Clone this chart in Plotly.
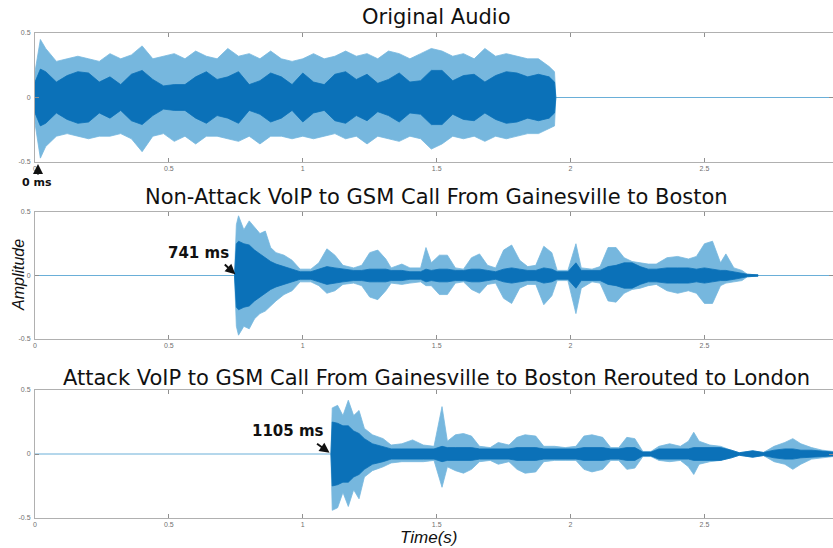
import plotly.graph_objects as go

# ---------------- data ----------------
# Panel 1: Original Audio  (time s, outer upper, outer lower, inner half-width)
orig_t = [0.00, 0.02, 0.04, 0.08, 0.12, 0.16, 0.20, 0.24, 0.28, 0.32, 0.36, 0.40, 0.44, 0.48,
          0.52, 0.56, 0.60, 0.64, 0.68, 0.72, 0.76, 0.80, 0.84, 0.88, 0.92, 0.96, 1.00, 1.04,
          1.08, 1.12, 1.16, 1.20, 1.24, 1.28, 1.32, 1.36, 1.40, 1.44, 1.48, 1.52, 1.56, 1.60,
          1.64, 1.68, 1.72, 1.76, 1.80, 1.84, 1.88, 1.92, 1.94, 1.945]
orig_up = [0.20, 0.45, 0.38, 0.28, 0.30, 0.32, 0.30, 0.28, 0.34, 0.30, 0.33, 0.40, 0.30, 0.32,
           0.34, 0.30, 0.36, 0.32, 0.30, 0.38, 0.32, 0.34, 0.30, 0.36, 0.30, 0.28, 0.30, 0.34,
           0.30, 0.32, 0.36, 0.32, 0.34, 0.30, 0.36, 0.34, 0.30, 0.34, 0.38, 0.36, 0.32, 0.34,
           0.30, 0.38, 0.32, 0.34, 0.32, 0.30, 0.30, 0.24, 0.20, 0.0]
orig_lo = [-0.20, -0.47, -0.38, -0.30, -0.28, -0.30, -0.32, -0.30, -0.30, -0.28, -0.32, -0.42, -0.30, -0.28,
           -0.34, -0.30, -0.36, -0.30, -0.30, -0.32, -0.34, -0.30, -0.36, -0.30, -0.30, -0.32, -0.30, -0.32,
           -0.30, -0.28, -0.32, -0.30, -0.36, -0.30, -0.32, -0.34, -0.30, -0.32, -0.40, -0.36, -0.30, -0.32,
           -0.30, -0.34, -0.30, -0.32, -0.30, -0.28, -0.28, -0.24, -0.22, 0.0]
orig_in = [0.12, 0.22, 0.20, 0.12, 0.17, 0.20, 0.19, 0.12, 0.16, 0.10, 0.18, 0.21, 0.14, 0.09,
           0.10, 0.10, 0.16, 0.20, 0.14, 0.16, 0.20, 0.10, 0.13, 0.19, 0.16, 0.10, 0.19, 0.12,
           0.10, 0.18, 0.20, 0.14, 0.18, 0.11, 0.14, 0.19, 0.12, 0.13, 0.21, 0.21, 0.13, 0.17,
           0.18, 0.12, 0.17, 0.20, 0.19, 0.16, 0.18, 0.16, 0.12, 0.0]

# Panel 2: Non-attack call
non_t = [0.745, 0.752, 0.76, 0.78, 0.80, 0.82, 0.84, 0.86, 0.88, 0.90, 0.93, 0.96, 0.99, 1.03,
         1.06, 1.09, 1.12, 1.15, 1.19, 1.22, 1.25, 1.28, 1.31, 1.33, 1.37, 1.40, 1.44, 1.46,
         1.48, 1.51, 1.54, 1.57, 1.60, 1.63, 1.66, 1.69, 1.72, 1.75, 1.78, 1.81, 1.84, 1.87,
         1.90, 1.93, 1.95, 1.99, 2.02, 2.04, 2.08, 2.11, 2.14, 2.17, 2.20, 2.23, 2.26, 2.29,
         2.32, 2.36, 2.40, 2.44, 2.47, 2.50, 2.53, 2.56, 2.58, 2.61, 2.64, 2.66, 2.70]
non_up = [0.0, 0.40, 0.47, 0.36, 0.43, 0.38, 0.33, 0.35, 0.22, 0.18, 0.16, 0.12, 0.05, 0.05,
          0.10, 0.21, 0.16, 0.08, 0.06, 0.08, 0.18, 0.20, 0.13, 0.06, 0.09, 0.06, 0.06, 0.22,
          0.10, 0.16, 0.16, 0.06, 0.05, 0.14, 0.17, 0.08, 0.06, 0.20, 0.24, 0.12, 0.07, 0.08,
          0.23, 0.18, 0.04, 0.04, 0.25, 0.06, 0.05, 0.07, 0.22, 0.22, 0.14, 0.11, 0.10, 0.09,
          0.09, 0.14, 0.15, 0.13, 0.15, 0.25, 0.27, 0.10, 0.17, 0.06, 0.04, 0.01, 0.005]
non_lo = [0.0, -0.40, -0.47, -0.40, -0.42, -0.34, -0.30, -0.28, -0.24, -0.20, -0.15, -0.12, -0.05, -0.05,
          -0.08, -0.14, -0.12, -0.07, -0.06, -0.08, -0.17, -0.19, -0.12, -0.06, -0.07, -0.06, -0.05, -0.08,
          -0.08, -0.15, -0.15, -0.06, -0.05, -0.11, -0.14, -0.07, -0.06, -0.18, -0.22, -0.10, -0.07, -0.07,
          -0.23, -0.16, -0.04, -0.04, -0.30, -0.10, -0.05, -0.06, -0.20, -0.21, -0.14, -0.11, -0.10, -0.08,
          -0.07, -0.12, -0.14, -0.12, -0.14, -0.22, -0.22, -0.08, -0.06, -0.05, -0.04, -0.01, -0.005]
non_in = [0.0, 0.25, 0.27, 0.25, 0.24, 0.20, 0.17, 0.14, 0.11, 0.09, 0.07, 0.05, 0.03, 0.03,
          0.05, 0.07, 0.06, 0.05, 0.04, 0.04, 0.05, 0.05, 0.05, 0.04, 0.04, 0.03, 0.03, 0.05,
          0.04, 0.05, 0.05, 0.04, 0.04, 0.05, 0.05, 0.04, 0.03, 0.05, 0.06, 0.05, 0.04, 0.04,
          0.06, 0.05, 0.03, 0.03, 0.10, 0.04, 0.04, 0.04, 0.07, 0.08, 0.10, 0.10, 0.07, 0.05,
          0.05, 0.06, 0.06, 0.06, 0.05, 0.06, 0.05, 0.04, 0.04, 0.03, 0.02, 0.01, 0.005]

# Panel 3: Attack call rerouted to London
att_t = [1.105, 1.11, 1.13, 1.15, 1.17, 1.19, 1.21, 1.23, 1.26, 1.30, 1.33, 1.37, 1.41, 1.45,
         1.49, 1.52, 1.54, 1.57, 1.60, 1.63, 1.66, 1.70, 1.73, 1.77, 1.80, 1.83, 1.87, 1.90,
         1.94, 1.98, 2.02, 2.05, 2.08, 2.12, 2.15, 2.18, 2.21, 2.24, 2.27, 2.30, 2.33, 2.37,
         2.41, 2.44, 2.46, 2.48, 2.52, 2.56, 2.60, 2.63, 2.68, 2.72, 2.76, 2.80, 2.83, 2.86,
         2.90, 2.94, 2.98]
att_up = [0.0, 0.36, 0.38, 0.30, 0.42, 0.30, 0.34, 0.20, 0.15, 0.12, 0.07, 0.08, 0.11, 0.07,
          0.06, 0.37, 0.10, 0.15, 0.16, 0.14, 0.06, 0.05, 0.09, 0.07, 0.13, 0.15, 0.14, 0.06,
          0.06, 0.05, 0.06, 0.14, 0.15, 0.13, 0.05, 0.05, 0.13, 0.12, 0.02, 0.02, 0.06, 0.08,
          0.06, 0.10, 0.17, 0.10, 0.07, 0.06, 0.03, 0.01, 0.025, 0.012, 0.06, 0.09, 0.12, 0.08,
          0.05, 0.03, 0.02]
att_lo = [0.0, -0.44, -0.42, -0.30, -0.41, -0.28, -0.35, -0.18, -0.13, -0.10, -0.07, -0.06, -0.06, -0.06,
          -0.05, -0.26, -0.10, -0.13, -0.15, -0.12, -0.06, -0.05, -0.08, -0.06, -0.12, -0.15, -0.14, -0.06,
          -0.05, -0.05, -0.05, -0.12, -0.14, -0.12, -0.05, -0.05, -0.12, -0.11, -0.02, -0.02, -0.05, -0.06,
          -0.05, -0.10, -0.16, -0.08, -0.06, -0.05, -0.03, -0.01, -0.025, -0.012, -0.06, -0.08, -0.12, -0.08,
          -0.04, -0.03, -0.02]
att_in = [0.0, 0.25, 0.24, 0.22, 0.22, 0.18, 0.16, 0.12, 0.08, 0.06, 0.04, 0.04, 0.04, 0.04,
          0.04, 0.06, 0.05, 0.05, 0.05, 0.05, 0.04, 0.04, 0.04, 0.04, 0.05, 0.05, 0.05, 0.04,
          0.04, 0.04, 0.04, 0.05, 0.05, 0.05, 0.04, 0.04, 0.05, 0.05, 0.015, 0.015, 0.04, 0.04,
          0.04, 0.04, 0.05, 0.05, 0.05, 0.05, 0.03, 0.01, 0.025, 0.012, 0.03, 0.04, 0.04, 0.03,
          0.03, 0.02, 0.015]

titles = ["Original Audio",
          "Non-Attack VoIP to GSM Call From Gainesville to Boston",
          "Attack VoIP to GSM Call From Gainesville to Boston Rerouted to London"]
x_ticks = [0, 0.5, 1, 1.5, 2, 2.5]
x_tick_labels = ["0", "0.5", "1", "1.5", "2", "2.5"]
y_ticks = [-0.5, 0, 0.5]
y_tick_labels = ["-0.5", "0", "0.5"]
t_end = 2.98

# ---------------- figure ----------------
W, H = 833, 548
LIGHT = "#76b7de"
DARK = "#0b71b8"
BASE = "#6aafd8"

panels = [(orig_t, orig_up, orig_lo, orig_in),
          (non_t, non_up, non_lo, non_in),
          (att_t, att_up, att_lo, att_in)]
# plot areas in pixels from top (y_top, y_bottom)
px_rows = [(33, 162), (212, 339), (390, 518)]
x_left, x_right = 35, 833

fig = go.Figure()
layout = dict(width=W, height=H, margin=dict(l=0, r=0, t=0, b=0, autoexpand=False),
              paper_bgcolor="white", plot_bgcolor="white", showlegend=False)

for i, ((t, up, lo, inn), (yt, yb)) in enumerate(zip(panels, px_rows)):
    n = "" if i == 0 else str(i + 1)
    xa, ya = "x" + n, "y" + n
    # silent baseline
    fig.add_trace(go.Scatter(x=[0, t_end], y=[0, 0], mode="lines",
                             line=dict(color=BASE, width=1), xaxis=xa, yaxis=ya,
                             hoverinfo="skip"))
    # outer light envelope
    fig.add_trace(go.Scatter(x=list(t) + list(t)[::-1], y=list(up) + list(lo)[::-1],
                             fill="toself", fillcolor=LIGHT, mode="lines",
                             line=dict(color=LIGHT, width=0.8), xaxis=xa, yaxis=ya,
                             hoverinfo="skip"))
    # inner dark envelope
    fig.add_trace(go.Scatter(x=list(t) + list(t)[::-1],
                             y=list(inn) + [-v for v in inn][::-1],
                             fill="toself", fillcolor=DARK, mode="lines",
                             line=dict(color=DARK, width=0.8), xaxis=xa, yaxis=ya,
                             hoverinfo="skip"))
    common = dict(showline=True, linecolor="#b0b0b0", linewidth=1, mirror="ticks",
                  ticks="inside", ticklen=4, tickcolor="#909090", automargin=False,
                  tickfont=dict(family="Liberation Sans, Arial", size=7, color="#707070"),
                  showgrid=False, zeroline=False)
    layout["xaxis" + n] = dict(domain=[x_left / W, 1.0], range=[0, t_end],
                               tickvals=x_ticks, ticktext=x_tick_labels,
                               anchor=ya, **common)
    layout["yaxis" + n] = dict(domain=[1 - yb / H, 1 - yt / H], range=[-0.5, 0.5],
                               tickvals=y_ticks, ticktext=y_tick_labels,
                               anchor=xa, ticklabelstandoff=2, **common)

fig.update_layout(**layout)

ann = []
title_y = [17, 197, 378]
for i, (tt, ty) in enumerate(zip(titles, title_y)):
    ann.append(dict(text=tt, x=436 / W, y=1 - ty / H, xref="paper", yref="paper",
                    showarrow=False, xanchor="center", yanchor="middle",
                    font=dict(family="DejaVu Sans, Verdana", size=21, color="#111")))

ann.append(dict(text="<i>Amplitude</i>", x=18 / W, y=1 - 275 / H, xref="paper", yref="paper",
                showarrow=False, textangle=-90, xanchor="center", yanchor="middle",
                font=dict(family="Liberation Sans, Arial", size=16, color="#111")))
ann.append(dict(text="<i>Time(s)</i>", x=428 / W, y=1 - 537 / H, xref="paper", yref="paper",
                showarrow=False, xanchor="center", yanchor="middle",
                font=dict(family="Liberation Sans, Arial", size=17, color="#111")))

bold = dict(family="DejaVu Sans, Verdana", size=15, color="#111")
# 0 ms
ann.append(dict(text="<b>0 ms</b>", x=37 / W, y=1 - 182 / H, xref="paper", yref="paper",
                showarrow=False, xanchor="center", yanchor="middle",
                font=dict(family="DejaVu Sans, Verdana", size=11, color="#111")))
ann.append(dict(text="", x=38 / W, y=1 - 164 / H, xref="paper", yref="paper", ax=0, ay=12,
                showarrow=True, arrowhead=2, arrowsize=1, arrowwidth=2, arrowcolor="#111"))
# 741 ms
ann.append(dict(text="<b>741 ms</b>", x=0.61, y=0.18, xref="x2", yref="y2",
                showarrow=False, xanchor="center", yanchor="middle", font=bold))
ann.append(dict(text="", x=0.748, y=0.01, xref="x2", yref="y2", ax=-12, ay=-11,
                showarrow=True, arrowhead=2, arrowsize=1, arrowwidth=2, arrowcolor="#111"))
# 1105 ms
ann.append(dict(text="<b>1105 ms</b>", x=0.945, y=0.18, xref="x3", yref="y3",
                showarrow=False, xanchor="center", yanchor="middle", font=bold))
ann.append(dict(text="", x=1.10, y=0.01, xref="x3", yref="y3", ax=-14, ay=-10,
                showarrow=True, arrowhead=2, arrowsize=1, arrowwidth=2, arrowcolor="#111"))

fig.update_layout(annotations=ann)
fig.write_html("out.html", config={"displayModeBar": False},
               post_script="document.body.style.margin='0px';document.body.style.overflow='hidden';")
